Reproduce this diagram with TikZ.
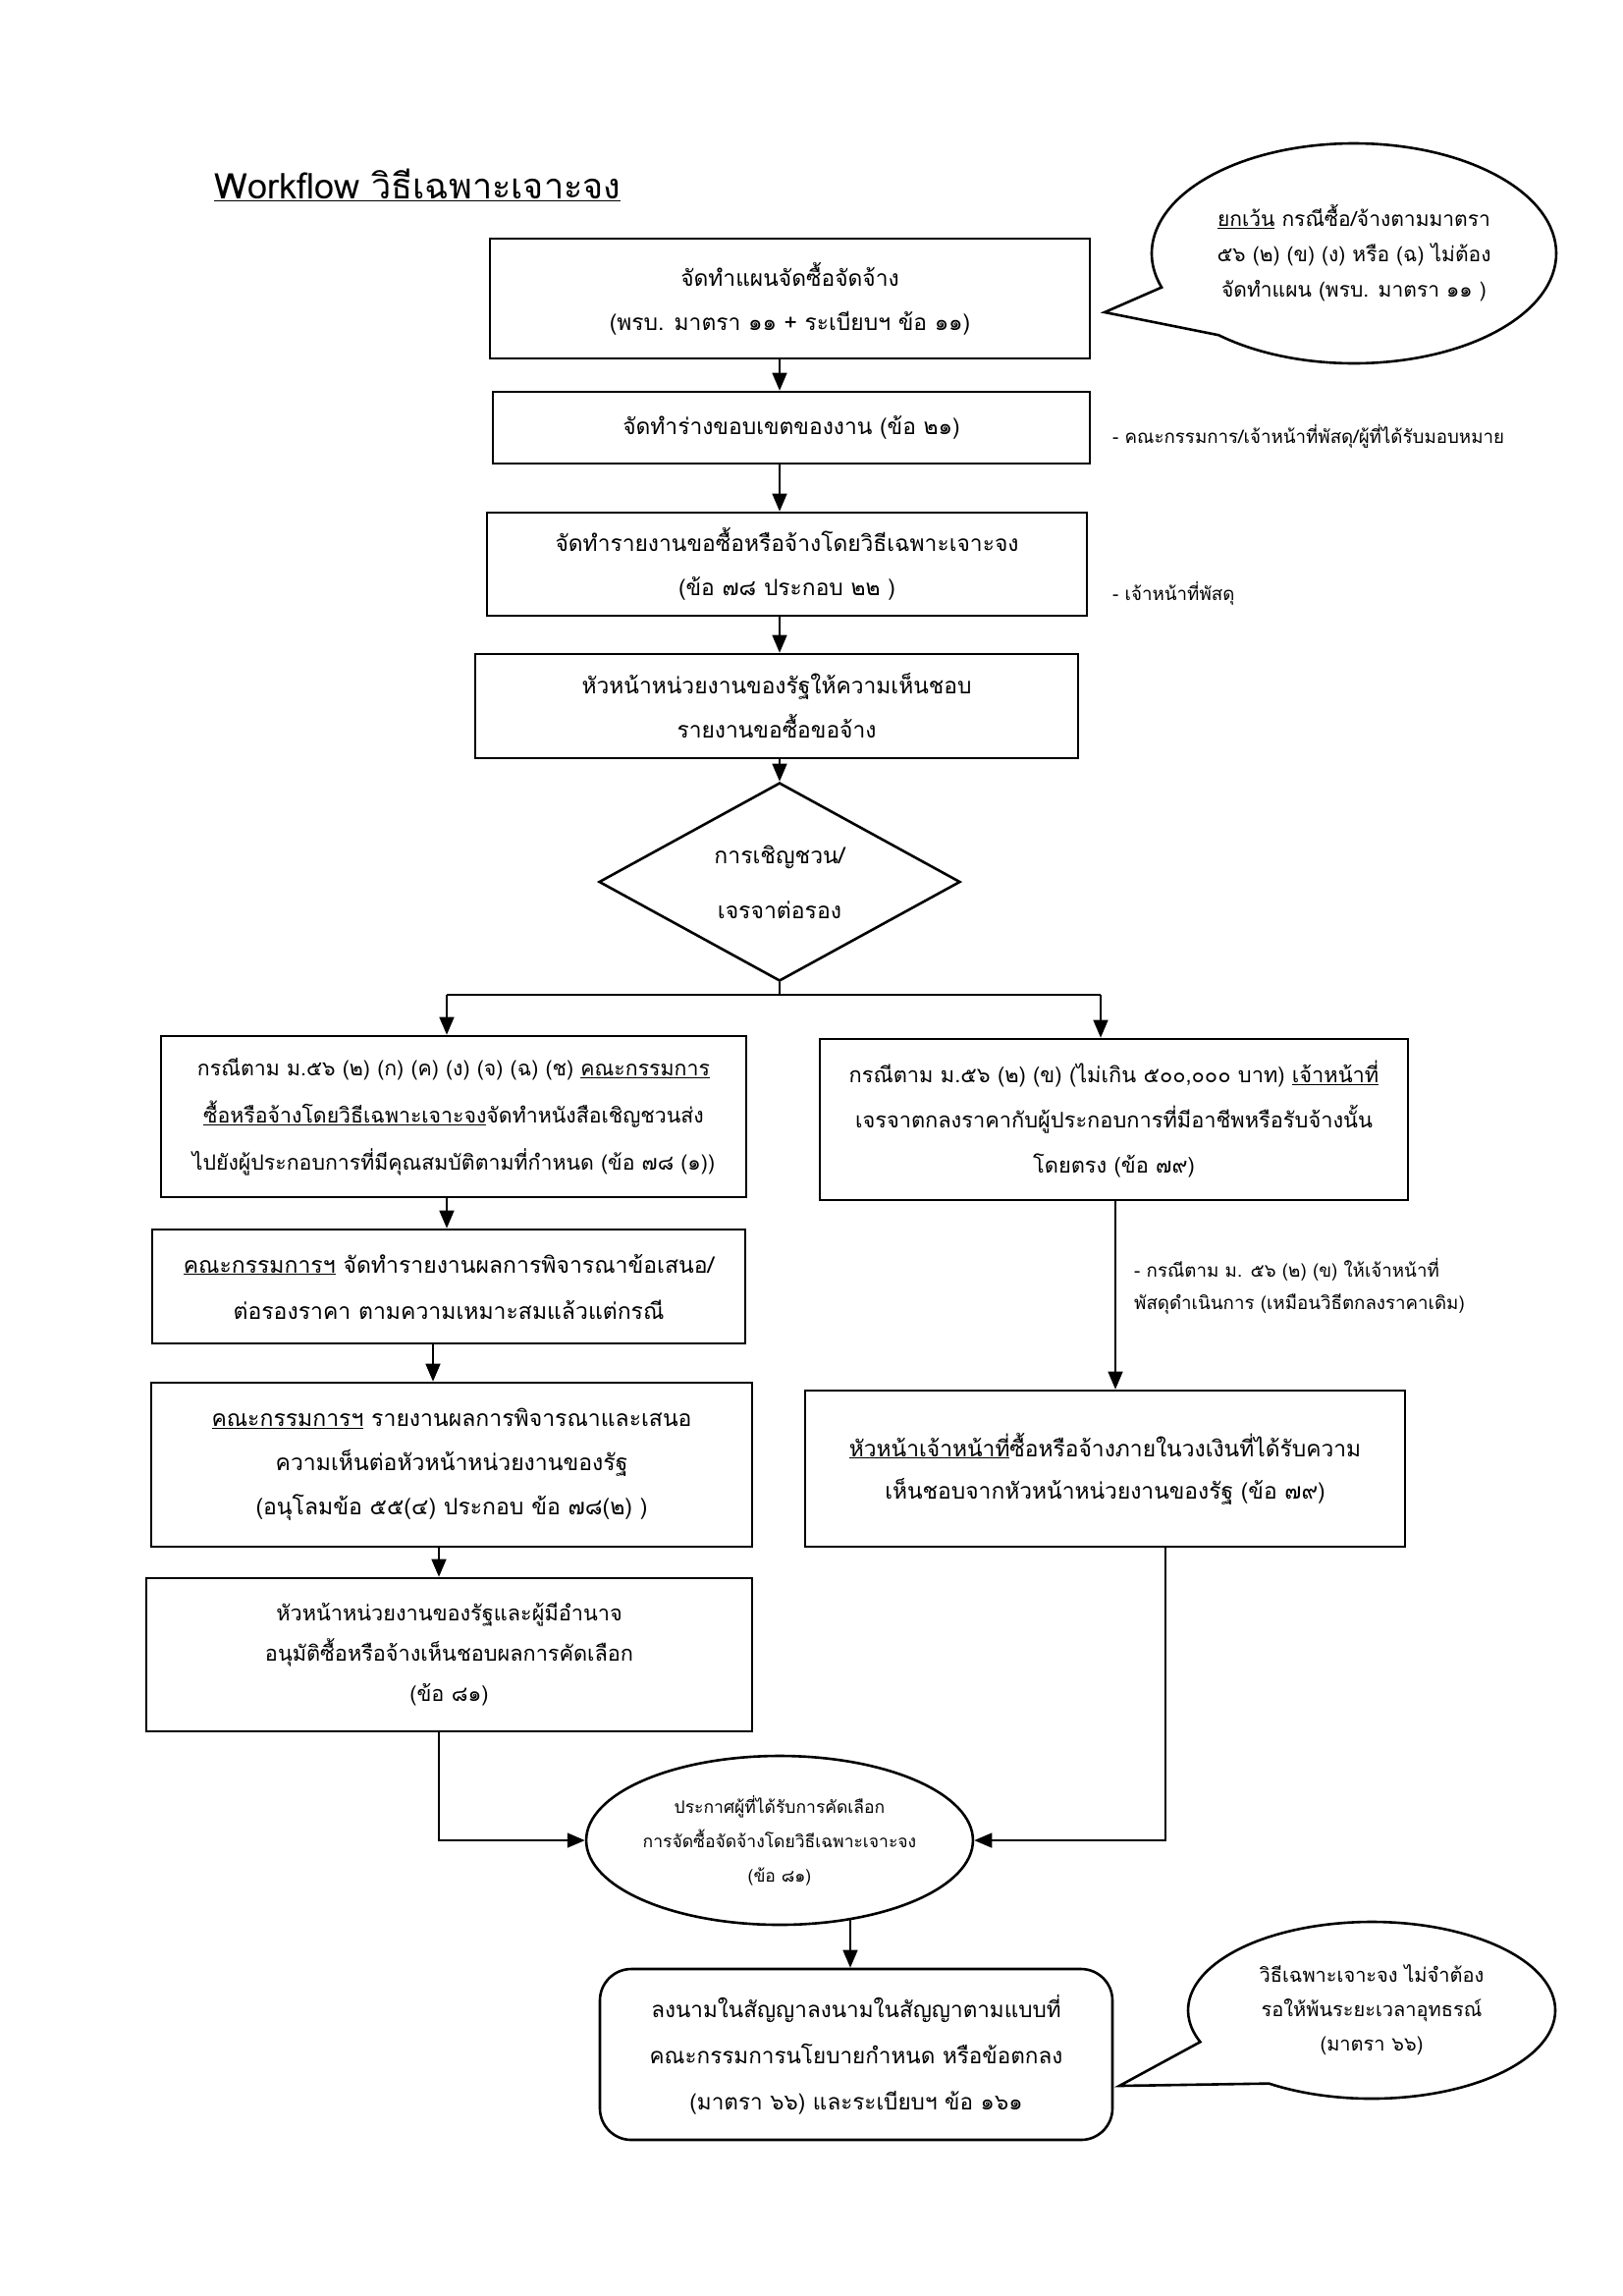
\documentclass[tikz,border=0pt]{standalone}
\usepackage{fontspec}
\newfontfamily\thai[Script=Thai]{Loma}
\usetikzlibrary{shapes.geometric,arrows.meta,calc}
\tikzset{
  box/.style={draw, line width=2.6pt, align=center, inner sep=0pt, font=\thai\fontsize{22.8}{45}\selectfont},
  arr/.style={line width=1.5pt, -{Triangle[length=18pt,width=15pt]}},
  conn/.style={line width=1.5pt},
  note/.style={font=\thai\fontsize{18.7}{33}\selectfont, align=left, inner sep=0pt, anchor=west},
  small/.style={font=\thai\fontsize{18}{35}\selectfont, align=center, inner sep=0pt},
  outline/.style={line width=2.6pt},
}
\begin{document}
\begin{tikzpicture}[x=1pt,y=1pt]
\useasboundingbox[fill=white] (0,0) rectangle (1653,-2338);

% title
\node[anchor=west, inner sep=0pt, font=\thai\fontsize{36}{42}\selectfont] (title) at (218,-188) {\underline{Workflow วิธีเฉพาะเจาะจง}};

% main column
\node[box, minimum width=611pt, minimum height=122pt] (b1) at (804.5,-304) {จัดทำแผนจัดซื้อจัดจ้าง\\(พรบ. มาตรา ๑๑ + ระเบียบฯ ข้อ ๑๑)};
\node[box, minimum width=608pt, minimum height=73pt] (b2) at (806,-435.5) {จัดทำร่างขอบเขตของงาน (ข้อ ๒๑)};
\node[box, minimum width=611pt, minimum height=105pt] (b3) at (801.5,-574.5) {จัดทำรายงานขอซื้อหรือจ้างโดยวิธีเฉพาะเจาะจง\\(ข้อ ๗๘ ประกอบ ๒๒ )};
\node[box, minimum width=614pt, minimum height=106pt] (b4) at (791,-719) {หัวหน้าหน่วยงานของรัฐให้ความเห็นชอบ\\รายงานขอซื้อขอจ้าง};
\node[draw, diamond, line width=2.6pt, minimum width=368pt, minimum height=202pt, shape aspect=1.82, inner sep=0pt, align=center, font=\thai\fontsize{23}{56}\selectfont] (dia) at (794,-898) {การเชิญชวน/\\เจรจาต่อรอง};

% side notes
\node[note] (n1) at (1133,-444) {- คณะกรรมการ/เจ้าหน้าที่พัสดุ/ผู้ที่ได้รับมอบหมาย};
\node[note] (n2) at (1133,-604) {- เจ้าหน้าที่พัสดุ};

% top speech bubble
\node[small, font=\thai\fontsize{21}{36}\selectfont, minimum width=412pt, minimum height=224pt] (bub1) at (1379,-258) {\underline{ยกเว้น} กรณีซื้อ/จ้างตามมาตรา\\๕๖ (๒) (ข) (ง) หรือ (ฉ) ไม่ต้อง\\จัดทำแผน (พรบ. มาตรา ๑๑ )};
\coordinate (tip1) at (1125,-318);
\draw[outline] (bub1.center) ++(228:206 and 112) arc[start angle=228, end angle=558, x radius=206, y radius=112] -- (tip1) -- cycle;

% left branch
\node[box, minimum width=596pt, minimum height=164pt, font=\thai\fontsize{21.3}{48}\selectfont] (ba) at (462,-1137) {กรณีตาม ม.๕๖ (๒) (ก) (ค) (ง) (จ) (ฉ) (ช) \underline{คณะกรรมการ}\\\underline{ซื้อหรือจ้างโดยวิธีเฉพาะเจาะจง}จัดทำหนังสือเชิญชวนส่ง\\ไปยังผู้ประกอบการที่มีคุณสมบัติตามที่กำหนด (ข้อ ๗๘ (๑))};
\node[box, minimum width=604pt, minimum height=116pt, font=\thai\fontsize{23}{47}\selectfont] (bc) at (457,-1310) {\underline{คณะกรรมการฯ} จัดทำรายงานผลการพิจารณาข้อเสนอ/\\ต่อรองราคา ตามความเหมาะสมแล้วแต่กรณี};
\node[box, minimum width=612pt, minimum height=167pt, font=\thai\fontsize{23}{45}\selectfont] (bd) at (460,-1491.5) {\underline{คณะกรรมการฯ} รายงานผลการพิจารณาและเสนอ\\ความเห็นต่อหัวหน้าหน่วยงานของรัฐ\\(อนุโลมข้อ ๕๕(๔) ประกอบ ข้อ ๗๘(๒) )};
\node[box, minimum width=617pt, minimum height=156pt, font=\thai\fontsize{21.7}{41}\selectfont] (be) at (457.5,-1685) {หัวหน้าหน่วยงานของรัฐและผู้มีอำนาจ\\อนุมัติซื้อหรือจ้างเห็นชอบผลการคัดเลือก\\(ข้อ ๘๑)};

% right branch
\node[box, minimum width=599pt, minimum height=164pt, font=\thai\fontsize{21.8}{46}\selectfont] (bb) at (1134.5,-1140) {กรณีตาม ม.๕๖ (๒) (ข) (ไม่เกิน ๕๐๐,๐๐๐ บาท) \underline{เจ้าหน้าที่}\\เจรจาตกลงราคากับผู้ประกอบการที่มีอาชีพหรือรับจ้างนั้น\\โดยตรง (ข้อ ๗๙)};
\node[note] (n3) at (1155,-1310) {- กรณีตาม ม. ๕๖ (๒) (ข) ให้เจ้าหน้าที่\\พัสดุดำเนินการ (เหมือนวิธีตกลงราคาเดิม)};
\node[box, minimum width=611pt, minimum height=159pt, font=\thai\fontsize{22.8}{43}\selectfont] (bf) at (1125.5,-1495.5) {\underline{หัวหน้าเจ้าหน้าที่}ซื้อหรือจ้างภายในวงเงินที่ได้รับความ\\เห็นชอบจากหัวหน้าหน่วยงานของรัฐ (ข้อ ๗๙)};

% announcement ellipse
\node[draw, ellipse, line width=2.6pt, minimum width=388pt, minimum height=172pt, small, font=\thai\fontsize{17.5}{35}\selectfont] (g) at (794,-1874) {ประกาศผู้ที่ได้รับการคัดเลือก\\การจัดซื้อจัดจ้างโดยวิธีเฉพาะเจาะจง\\(ข้อ ๘๑)};

% contract box
\node[box, rounded corners=32pt, minimum width=522pt, minimum height=174pt, font=\thai\fontsize{22.5}{47}\selectfont] (bh) at (872,-2092) {ลงนามในสัญญาลงนามในสัญญาตามแบบที่\\คณะกรรมการนโยบายกำหนด หรือข้อตกลง\\(มาตรา ๖๖) และระเบียบฯ ข้อ ๑๖๑};

% bottom speech bubble
\node[small, font=\thai\fontsize{20}{35}\selectfont, minimum width=374pt, minimum height=180pt] (bub2) at (1397,-2047) {วิธีเฉพาะเจาะจง ไม่จำต้อง\\รอให้พ้นระยะเวลาอุทธรณ์\\(มาตรา ๖๖)};
\coordinate (tip2) at (1140,-2124);
\draw[outline] (bub2.center) ++(236:187 and 90) arc[start angle=236, end angle=561, x radius=187, y radius=90] -- (tip2) -- cycle;

% connectors
\draw[arr] (b1.south -| dia.north) -- (b2.north -| dia.north);
\draw[arr] (b2.south -| dia.north) -- (b3.north -| dia.north);
\draw[arr] (b3.south -| dia.north) -- (b4.north -| dia.north);
\draw[arr] (b4.south -| dia.north) -- (dia.north);
\coordinate (j) at (794,-1013);
\coordinate (ja) at (455,-1013);
\coordinate (jb) at (1121,-1013);
\draw[conn] (dia.south) -- (j);
\draw[conn] (ja) -- (jb);
\draw[arr] (ja) -- (ja |- ba.north);
\draw[arr] (jb) -- (jb |- bb.north);
\draw[arr] (ja |- ba.south) -- (ja |- bc.north);
\coordinate (xc) at (441,0);
\draw[arr] (xc |- bc.south) -- (xc |- bd.north);
\coordinate (xd) at (447,0);
\draw[arr] (xd |- bd.south) -- (xd |- be.north);
\draw[arr] (xd |- be.south) |- (g.west);
\coordinate (xb) at (1136,0);
\draw[arr] (xb |- bb.south) -- (xb |- bf.north);
\coordinate (xf) at (1187,0);
\draw[arr] (xf |- bf.south) |- (g.east);
\coordinate (gs) at (866,-1954);
\draw[arr] (gs) -- (gs |- bh.north);
\end{tikzpicture}
\end{document}
